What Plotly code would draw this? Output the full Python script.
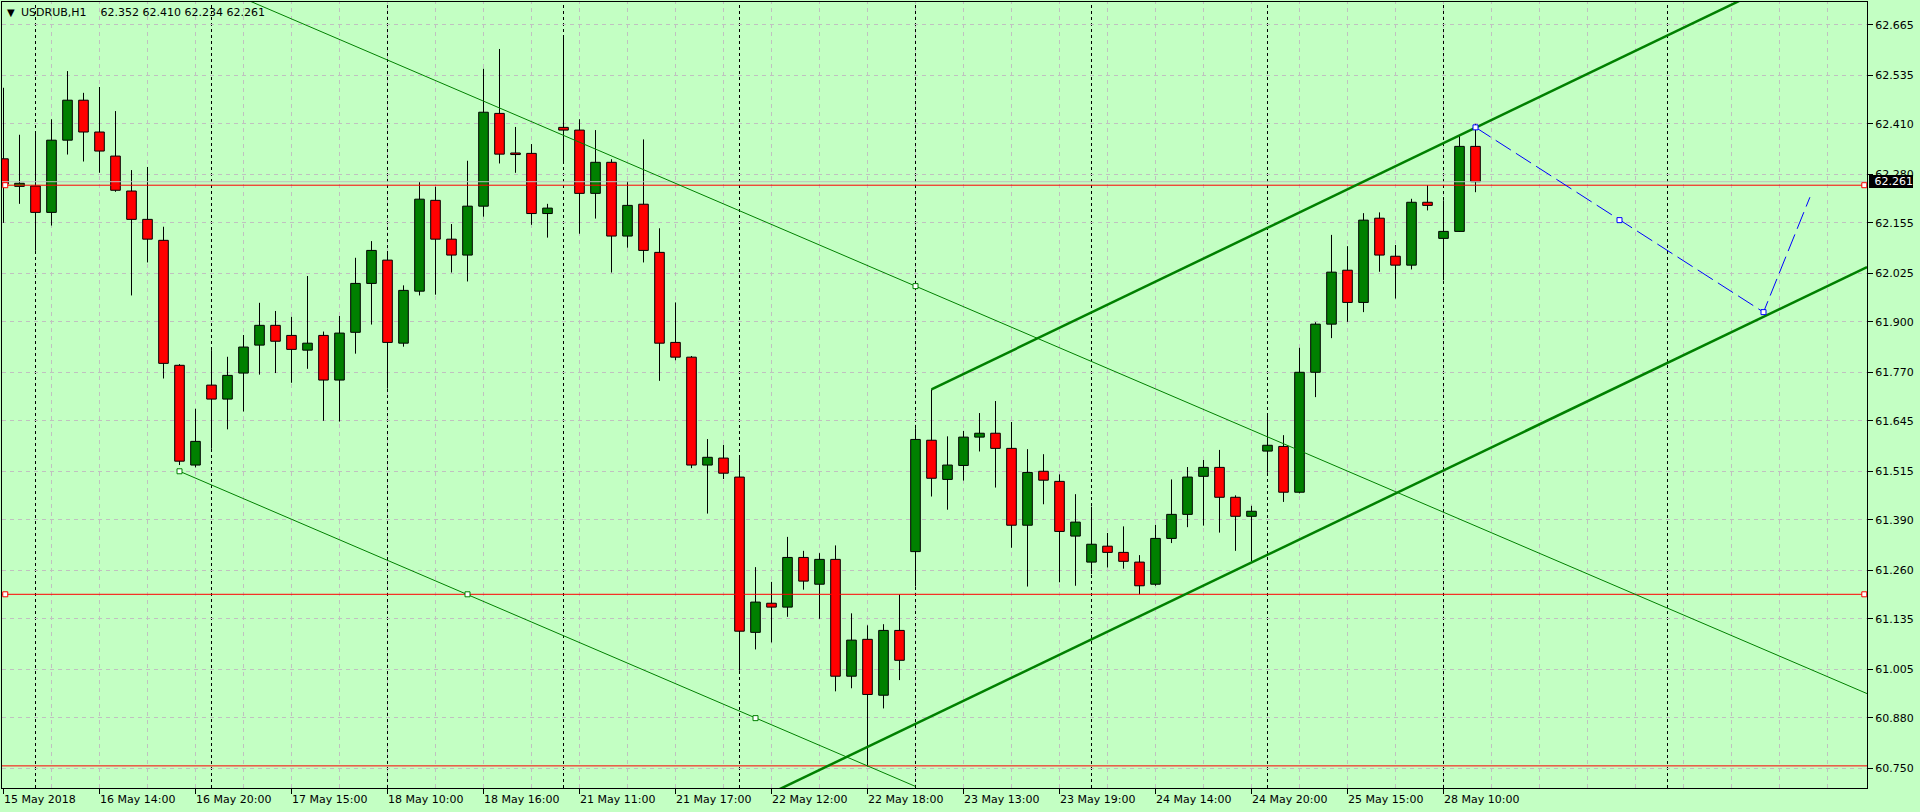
import plotly.graph_objects as go

# ---------------- data (USDRUB, H1) ----------------
opens = [
    62.320, 62.249, 62.250, 62.182, 62.368, 62.471, 62.389, 62.327, 62.237, 62.164,
    62.110, 61.788, 61.531, 61.737, 61.701, 61.768, 61.840, 61.891, 61.865, 61.827,
    61.865, 61.750, 61.873, 61.999, 62.059, 61.845, 61.979, 62.213, 62.113, 62.072,
    62.198, 62.437, 62.335, 62.334, 62.179, 62.401, 62.394, 62.231, 62.311, 62.121,
    62.203, 62.079, 61.847, 61.809, 61.531, 61.549, 61.500, 61.100, 61.175, 61.165,
    61.293, 61.224, 61.288, 60.987, 61.082, 60.938, 61.105, 61.308, 61.595, 61.494,
    61.530, 61.603, 61.613, 61.574, 61.376, 61.515, 61.489, 61.348, 61.281, 61.322,
    61.306, 61.281, 61.224, 61.342, 61.404, 61.502, 61.525, 61.448, 61.399, 61.567,
    61.579, 61.461, 61.770, 61.894, 62.033, 61.950, 62.167, 62.069, 62.046, 62.208,
    62.115, 62.133, 62.352]
highs = [
    62.503, 62.382, 62.384, 62.422, 62.546, 62.490, 62.505, 62.443, 62.291, 62.299,
    62.145, 61.791, 61.676, 61.827, 61.810, 61.866, 61.949, 61.928, 61.913, 62.018,
    61.875, 61.915, 62.065, 62.108, 62.079, 61.994, 62.260, 62.248, 62.152, 62.315,
    62.552, 62.603, 62.402, 62.358, 62.204, 62.634, 62.422, 62.394, 62.319, 62.262,
    62.370, 62.141, 61.950, 61.812, 61.598, 61.583, 61.549, 61.268, 61.230, 61.346,
    61.310, 61.304, 61.324, 61.149, 61.118, 61.121, 61.198, 61.626, 61.726, 61.605,
    61.619, 61.665, 61.696, 61.642, 61.572, 61.559, 61.507, 61.456, 61.424, 61.356,
    61.373, 61.299, 61.377, 61.494, 61.526, 61.544, 61.570, 61.453, 61.426, 61.659,
    61.608, 61.833, 61.899, 62.124, 62.095, 62.180, 62.182, 62.098, 62.217, 62.252,
    62.213, 62.381, 62.410]
lows = [
    62.155, 62.204, 62.083, 62.148, 62.331, 62.313, 62.284, 62.235, 61.968, 62.053,
    61.754, 61.531, 61.525, 61.573, 61.623, 61.669, 61.764, 61.768, 61.743, 61.779,
    61.645, 61.643, 61.818, 61.893, 61.728, 61.836, 61.968, 61.970, 62.027, 62.004,
    62.171, 62.308, 62.284, 62.150, 62.117, 62.311, 62.127, 62.166, 62.027, 62.091,
    62.053, 61.748, 61.801, 61.523, 61.406, 61.495, 61.001, 61.056, 61.074, 61.140,
    61.210, 61.135, 60.948, 60.956, 60.754, 60.904, 60.977, 61.218, 61.450, 61.416,
    61.491, 61.566, 61.473, 61.318, 61.218, 61.430, 61.229, 61.220, 61.250, 61.267,
    61.264, 61.198, 61.220, 61.330, 61.371, 61.375, 61.357, 61.310, 61.283, 61.511,
    61.436, 61.458, 61.706, 61.858, 61.900, 61.925, 62.029, 61.960, 62.035, 62.187,
    62.007, 62.132, 62.234]
closes = [
    62.255, 62.257, 62.182, 62.368, 62.471, 62.389, 62.340, 62.239, 62.164, 62.113,
    61.793, 61.541, 61.592, 61.701, 61.762, 61.835, 61.891, 61.850, 61.829, 61.845,
    61.750, 61.871, 61.999, 62.084, 61.847, 61.981, 62.216, 62.113, 62.072, 62.198,
    62.440, 62.332, 62.331, 62.179, 62.193, 62.394, 62.231, 62.311, 62.121, 62.200,
    62.084, 61.845, 61.809, 61.531, 61.551, 61.510, 61.103, 61.178, 61.165, 61.293,
    61.232, 61.288, 60.987, 61.080, 60.940, 61.105, 61.028, 61.597, 61.497, 61.531,
    61.603, 61.613, 61.574, 61.376, 61.512, 61.492, 61.360, 61.384, 61.327, 61.306,
    61.283, 61.220, 61.342, 61.404, 61.500, 61.525, 61.448, 61.399, 61.412, 61.582,
    61.461, 61.770, 61.894, 62.028, 61.950, 62.162, 62.072, 62.046, 62.208, 62.200,
    62.133, 62.352, 62.261]

price_ticks = [62.665, 62.535, 62.410, 62.280, 62.155, 62.025, 61.900, 61.770,
               61.645, 61.515, 61.390, 61.260, 61.135, 61.005, 60.880, 60.750]
time_tick_bars = [0, 6, 12, 18, 24, 30, 36, 42, 48, 54, 60, 66, 72, 78, 84, 90]
time_tick_labels = ["15 May 2018", "16 May 14:00", "16 May 20:00", "17 May 15:00",
                    "18 May 10:00", "18 May 16:00", "21 May 11:00", "21 May 17:00",
                    "22 May 12:00", "22 May 18:00", "23 May 13:00", "23 May 19:00",
                    "24 May 14:00", "24 May 20:00", "25 May 15:00", "28 May 10:00"]
day_separator_bars = [2, 13, 24, 35, 46, 57, 68, 79, 90, 104]
grid_bars = list(range(3, 117, 3))

# chart objects (bar index, price)
desc_top_bars, desc_top_prices = [11, 57], [62.804, 61.992]
desc_bot_bars, desc_bot_prices = [11, 57], [61.515, 60.703]
desc_mark_bars, desc_mark_prices = [11, 29, 47, 57], [61.515, 61.198, 60.879, 61.992]
asc_top_bars, asc_top_prices = [58, 92], [61.726, 62.400]
asc_bot_bars, asc_bot_prices = [58, 110], [60.884, 61.913]
forecast_bars = [92, 101, 110, 112.9]
forecast_prices = [62.401, 62.162, 61.925, 62.221]
red_levels = [62.252, 61.198, 60.756]
red_marked_levels = [62.252, 61.198]
bid_price = 62.261
symbol_text = "USDRUB,H1"
ohlc_text = "62.352 62.410 62.234 62.261"

# ---------------- style ----------------
BG = "#C3FFC3"
GRID = "#C0C0C0"
GREEN = "#008000"
RED = "#FF0000"
FONT = "DejaVu Sans"
x_range = [-0.09375, 116.46875]
y_range = [60.699, 62.724]
PLOT_H = 786


def extend(bx, py, k_to):
    slope = (py[1] - py[0]) / (bx[1] - bx[0])
    return py[0] + slope * (k_to - bx[0])


fig = go.Figure()
bars = list(range(len(opens)))

# wicks (drawn only outside the bodies)
wx, wy = [], []
for k in bars:
    o, h, l, c = opens[k], highs[k], lows[k], closes[k]
    top, bot = max(o, c), min(o, c)
    wx += [k, k, None, k, k, None]
    wy += [h, top, None, bot, l, None]
fig.add_trace(go.Scatter(x=wx, y=wy, mode="lines",
                         line=dict(color="black", width=1), hoverinfo="skip"))

# bodies
for is_up, col in [(True, GREEN), (False, RED)]:
    xs = [k for k in bars if (closes[k] > opens[k]) == is_up]
    fig.add_trace(go.Bar(
        x=xs,
        base=[min(opens[k], closes[k]) for k in xs],
        y=[abs(closes[k] - opens[k]) for k in xs],
        width=0.6,
        marker=dict(color=col, line=dict(color="black", width=1)),
        hoverinfo="skip"))

# bid line
fig.add_trace(go.Scatter(x=x_range, y=[bid_price, bid_price], mode="lines",
                         line=dict(color=GRID, width=1), hoverinfo="skip"))

# red horizontal levels
for lv in red_levels:
    fig.add_trace(go.Scatter(x=x_range, y=[lv, lv], mode="lines",
                             line=dict(color=RED, width=1), hoverinfo="skip"))
for lv in red_marked_levels:
    fig.add_trace(go.Scatter(x=[0.11, 116.3], y=[lv, lv], mode="markers",
                             marker=dict(symbol="square", size=5, color="white",
                                         line=dict(color=RED, width=1)),
                             hoverinfo="skip"))

# descending channel (thin)
fig.add_trace(go.Scatter(
    x=[desc_top_bars[0], x_range[1]],
    y=[desc_top_prices[0], extend(desc_top_bars, desc_top_prices, x_range[1])],
    mode="lines", line=dict(color=GREEN, width=1), hoverinfo="skip"))
fig.add_trace(go.Scatter(x=desc_bot_bars, y=desc_bot_prices, mode="lines",
                         line=dict(color=GREEN, width=1), hoverinfo="skip"))
fig.add_trace(go.Scatter(x=desc_mark_bars, y=desc_mark_prices, mode="markers",
                         marker=dict(symbol="square", size=5, color="white",
                                     line=dict(color=GREEN, width=1)),
                         hoverinfo="skip"))

# ascending channel (thick)
fig.add_trace(go.Scatter(
    x=[asc_top_bars[0], x_range[1]],
    y=[asc_top_prices[0], extend(asc_top_bars, asc_top_prices, x_range[1])],
    mode="lines", line=dict(color=GREEN, width=2.5), hoverinfo="skip"))
fig.add_trace(go.Scatter(
    x=[x_range[0], x_range[1]],
    y=[extend(asc_bot_bars, asc_bot_prices, x_range[0]),
       extend(asc_bot_bars, asc_bot_prices, x_range[1])],
    mode="lines", line=dict(color=GREEN, width=2.5), hoverinfo="skip"))

# blue dashed forecast path
fig.add_trace(go.Scatter(x=forecast_bars, y=forecast_prices, mode="lines",
                         line=dict(color="#0000FF", width=1, dash="18px,6px"),
                         hoverinfo="skip"))
fig.add_trace(go.Scatter(x=forecast_bars[:3], y=forecast_prices[:3], mode="markers",
                         marker=dict(symbol="square", size=5, color="white",
                                     line=dict(color="#0000FF", width=1)),
                         hoverinfo="skip"))

# vertical grid + day separators
shapes = []
for k in grid_bars:
    shapes.append(dict(type="line", xref="x", yref="paper", x0=k, x1=k, y0=0, y1=1,
                       line=dict(color=GRID, width=1, dash="4px,4px"), layer="below"))
for k in day_separator_bars:
    shapes.append(dict(type="line", xref="x", yref="paper", x0=k, x1=k, y0=0, y1=1,
                       line=dict(color="black", width=1, dash="3px,3px"), layer="below"))

annotations = []
for k, lab in zip(time_tick_bars, time_tick_labels):
    annotations.append(dict(x=k, xref="x", y=-11 / PLOT_H, yref="paper",
                            xanchor="left", yanchor="middle", xshift=-2,
                            text=lab, showarrow=False,
                            font=dict(family=FONT, size=11, color="black")))
annotations.append(dict(x=0, xref="paper", xanchor="left", xshift=3,
                        y=1 - 10.5 / PLOT_H, yref="paper", yanchor="middle",
                        text="\u25BC", showarrow=False,
                        font=dict(family=FONT, size=10, color="black")))
annotations.append(dict(x=0, xref="paper", xanchor="left", xshift=17,
                        y=1 - 10.5 / PLOT_H, yref="paper", yanchor="middle",
                        text=symbol_text + "\u00a0\u00a0\u00a0 " + ohlc_text, showarrow=False,
                        font=dict(family=FONT, size=11, color="black")))
annotations.append(dict(x=1, xref="paper", xanchor="left", xshift=2,
                        y=bid_price, yref="y", yanchor="middle",
                        text="%.3f" % bid_price, showarrow=False,
                        width=44, height=13, align="right",
                        bgcolor="black", borderpad=0, borderwidth=0,
                        font=dict(family=FONT, size=11, color="white")))

fig.update_layout(
    width=1920, height=812,
    margin=dict(l=2, r=53, t=2, b=24),
    paper_bgcolor=BG, plot_bgcolor=BG,
    showlegend=False, barmode="overlay", hovermode=False,
    font=dict(family=FONT, size=11, color="black"),
    shapes=shapes, annotations=annotations,
    xaxis=dict(range=x_range, tickmode="array", tickvals=time_tick_bars,
               ticks="outside", ticklen=5, tickcolor="black", tickwidth=1,
               showticklabels=False, showgrid=False, zeroline=False,
               showline=True, mirror=True, linecolor="black", linewidth=1,
               fixedrange=True),
    yaxis=dict(range=y_range, side="right", tickmode="array", tickvals=price_ticks,
               ticktext=["%.3f" % p for p in price_ticks],
               ticks="outside", ticklen=5, tickcolor="black", tickwidth=1,
               showgrid=True, gridcolor=GRID, gridwidth=1, griddash="4px,4px",
               zeroline=False, showline=True, mirror=True, linecolor="black",
               linewidth=1, tickfont=dict(family=FONT, size=11, color="black"),
               fixedrange=True),
)

fig.write_html("out.html", config={"displayModeBar": False},
               post_script="document.body.style.margin='0';document.body.style.overflow='hidden';")
